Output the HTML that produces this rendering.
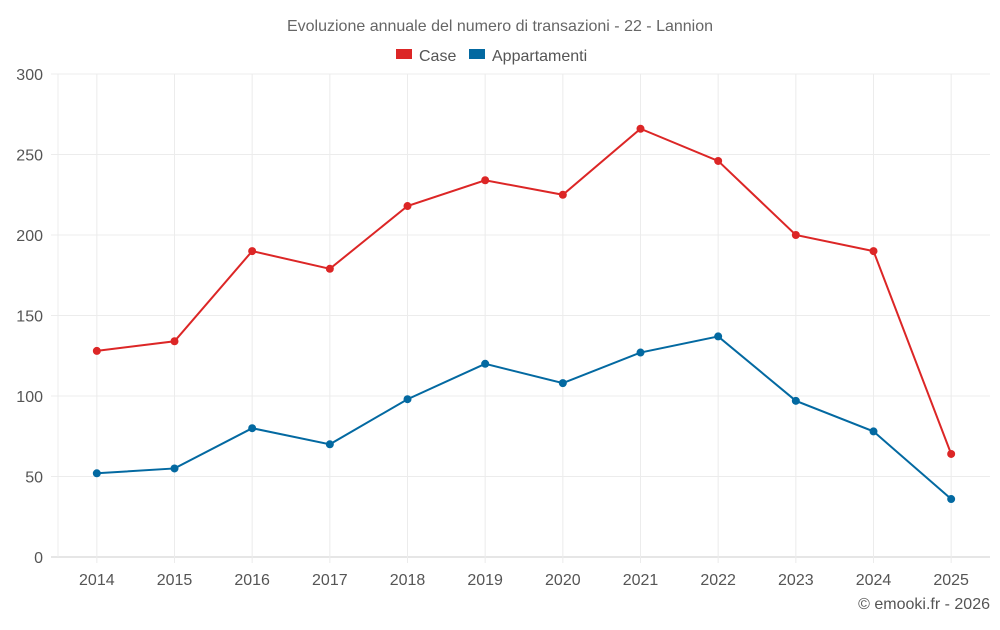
<!DOCTYPE html>
<html><head><meta charset="utf-8"><style>
body{margin:0;background:#fff;width:1000px;height:625px;overflow:hidden;font-family:"Liberation Sans",sans-serif}
</style></head><body>
<svg id="chart" width="1000" height="625" xmlns="http://www.w3.org/2000/svg" font-family="Liberation Sans, sans-serif">
<text x="500" y="31" text-anchor="middle" font-size="16" fill="#666">Evoluzione annuale del numero di transazioni - 22 - Lannion</text>
<g><rect x="396" y="49" width="16" height="10" fill="#dc2626"/><text x="419" y="61" font-size="16" fill="#555">Case</text></g>
<g><rect x="469" y="49" width="16" height="10" fill="#0369a1"/><text x="492" y="61" font-size="16" fill="#555">Appartamenti</text></g>
<g id="grid"></g><g id="axes"></g><g id="series"></g>
<text x="990" y="609" text-anchor="end" font-size="16" fill="#555">© emooki.fr - 2026</text>
</svg>
<script>
const years=["2014","2015","2016","2017","2018","2019","2020","2021","2022","2023","2024","2025"];
const caseVals=[128,134,190,179,218,234,225,266,246,200,190,64];
const appVals=[52,55,80,70,98,120,108,127,137,97,78,36];
const yTicks=[0,50,100,150,200,250,300];
const L=58,R=990,T=74,B=557,yMax=300;
const bw=(R-L)/years.length;
const x=i=>L+bw*(i+0.5);
const y=v=>B-(v/yMax)*(B-T);
const NS="http://www.w3.org/2000/svg";
function mk(tag,attrs,parent){const e=document.createElementNS(NS,tag);for(const k in attrs)e.setAttribute(k,attrs[k]);parent.appendChild(e);return e;}
const grid=document.getElementById('grid'),axes=document.getElementById('axes'),ser=document.getElementById('series');
yTicks.forEach(t=>{
 const l=mk('line',{x1:51,x2:R,y1:y(t),y2:y(t),stroke:t===0?'#ccc':'#ececec'},grid);
 
 
 const tx=mk('text',{x:43,y:y(t)+6,'text-anchor':'end','font-size':16,fill:'#555'},axes);
 tx.textContent=t;
 
 
});
const la=mk('line',{x1:L,x2:L,y1:T,y2:B,stroke:'#ececec'},grid);


years.forEach((yr,i)=>{
 const l=mk('line',{x1:x(i),x2:x(i),y1:T,y2:B+6,stroke:'#ececec'},grid);
 
 
 const tx=mk('text',{x:x(i),y:585,'text-anchor':'middle','font-size':16,fill:'#555'},axes);
 tx.textContent=yr;
 
 
});
function draw(vals,color,name){
 const p=mk('polyline',{points:vals.map((v,i)=>x(i)+','+y(v)).join(' '),fill:'none',stroke:color,'stroke-width':2},ser);
 
 
 vals.forEach((v,i)=>{
  const c=mk('circle',{cx:x(i),cy:y(v),r:4,fill:color},ser);
  
  
 });
}
draw(caseVals,'#dc2626','case');
draw(appVals,'#0369a1','appartamenti');
</script>
</body></html>
